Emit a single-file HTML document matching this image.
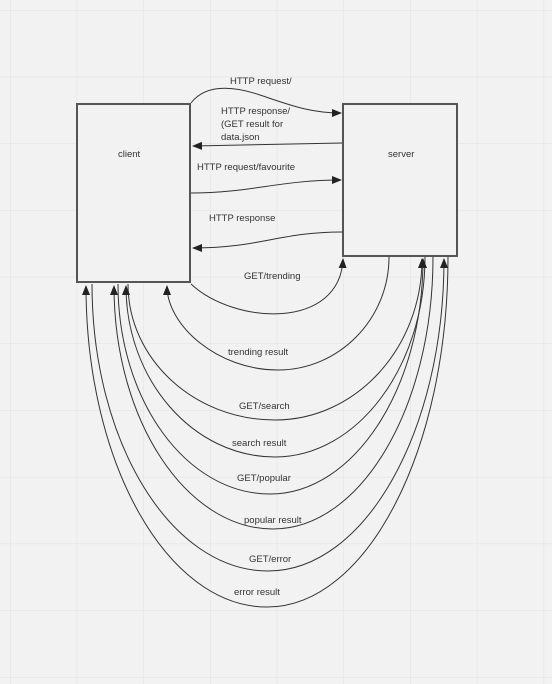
<!DOCTYPE html>
<html><head><style>
body{margin:0;background:#f2f2f2}
svg{display:block}
text{font-family:"Liberation Sans",sans-serif;font-size:9.5px;fill:#333}
</style></head><body>
<svg width="552" height="684" viewBox="0 0 552 684">
<defs>
<pattern id="g" width="66.7" height="66.7" patternUnits="userSpaceOnUse" x="10" y="10">
<path d="M0 0H66.7M0 0V66.7" stroke="#e2e2e2" stroke-width="1" fill="none"/>
</pattern>
<marker id="a" markerWidth="10" markerHeight="8" refX="9" refY="4" orient="auto" markerUnits="userSpaceOnUse">
<path d="M0,0 L10,4 L0,8 Z" fill="#222"/>
</marker>
</defs>
<rect width="552" height="684" fill="url(#g)"/>
<rect x="77" y="104" width="113" height="178" fill="#f2f2f2" stroke="#555" stroke-width="2"/>
<rect x="343" y="104" width="114" height="152" fill="#f2f2f2" stroke="#555" stroke-width="2"/>
<text x="118" y="157">client</text>
<text x="388" y="157">server</text>
<g fill="none" stroke="#333" stroke-width="1">
<path d="M191,103 C205,85 230,85 260,95 C290,105 310,113 341,113" marker-end="url(#a)"/>
<path d="M342,143 C280,144 250,145 193,146" marker-end="url(#a)"/>
<path d="M191,193 C250,193 280,180 341,180" marker-end="url(#a)"/>
<path d="M342,232 C280,232 260,248 193,248" marker-end="url(#a)"/>
<path d="M191,284 C235,325 340,330 343,259" marker-end="url(#a)"/>
<path d="M389,257 C389,319 339,370 278,370 C217,370 167,325 167,286" marker-end="url(#a)"/>
<path d="M128,284 C128,359 194,420 275,420 C356,420 422,348 422,259" marker-end="url(#a)"/>
<path d="M425,257 C425,367 357,457 275,457 C193,457 126,380 126,286" marker-end="url(#a)"/>
<path d="M118,284 C118,400 186,494 270,494 C354,494 423,388 423,259" marker-end="url(#a)"/>
<path d="M433,257 C433,407 361,529 273,529 C186,529 114,420 114,286" marker-end="url(#a)"/>
<path d="M92,284 C92,442 171,571 268,571 C365,571 444,431 444,259" marker-end="url(#a)"/>
<path d="M448,257 C448,450 367,607 267,607 C167,607 86,463 86,286" marker-end="url(#a)"/>
</g>
<text x="230" y="84">HTTP request/</text>
<text x="221" y="114">HTTP response/</text>
<text x="221" y="127">(GET result for</text>
<text x="221" y="140">data.json</text>
<text x="197" y="170">HTTP request/favourite</text>
<text x="209" y="221">HTTP response</text>
<text x="244" y="279">GET/trending</text>
<text x="228" y="355">trending result</text>
<text x="239" y="409">GET/search</text>
<text x="232" y="446">search result</text>
<text x="237" y="481">GET/popular</text>
<text x="244" y="523">popular result</text>
<text x="249" y="562">GET/error</text>
<text x="234" y="595">error result</text>
</svg>
</body></html>
